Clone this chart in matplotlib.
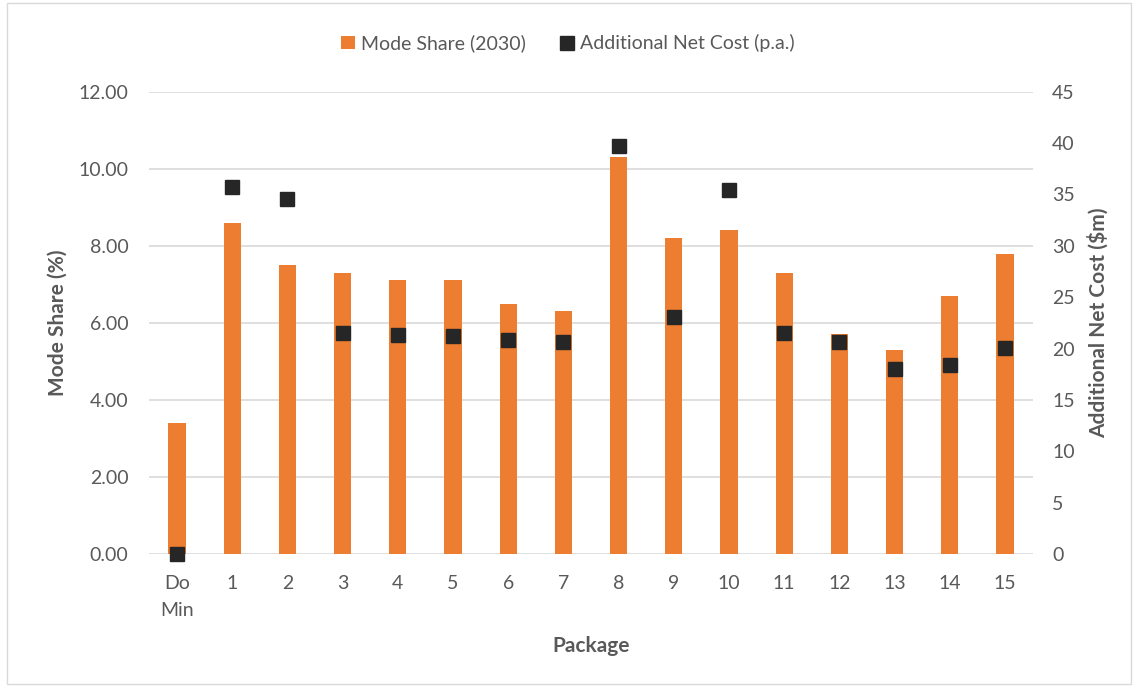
import matplotlib.pyplot as plt
from matplotlib.patches import Rectangle
from matplotlib.ticker import FormatStrFormatter

# data
packages = ['Do\nMin', '1', '2', '3', '4', '5', '6', '7', '8', '9', '10',
            '11', '12', '13', '14', '15']
mode_share = [3.4, 8.6, 7.5, 7.3, 7.1, 7.1, 6.5, 6.3, 10.3, 8.2, 8.4,
              7.3, 5.7, 5.3, 6.7, 7.8]
net_cost = [0.0, 35.7, 34.6, 21.5, 21.3, 21.2, 20.8, 20.65, 39.7, 23.1, 35.4,
            21.5, 20.65, 18.0, 18.4, 20.1]

text_col = '#595959'
plt.rcParams['font.family'] = ['Lato', 'DejaVu Sans']


def main():
    fig = plt.figure(figsize=(11.36, 6.87), dpi=100)
    ax = fig.add_axes([0.1315, 0.1936, 0.7775, 0.6729])
    ax2 = ax.twinx()

    x = list(range(len(packages)))
    ax.bar(x, mode_share, width=0.31, color='#ED7D31', zorder=2,
           label='Mode Share (2030)')
    ax2.plot(x, net_cost, linestyle='none', marker='s', markersize=9.5,
             color='#262626', clip_on=False, zorder=3,
             label='Additional Net Cost (p.a.)')

    ax.set_xlim(-0.5, len(packages) - 0.5)
    ax.set_ylim(0, 12)
    ax.set_yticks([0, 2, 4, 6, 8, 10, 12])
    ax.yaxis.set_major_formatter(FormatStrFormatter('%.2f'))
    ax2.set_ylim(0, 45)
    ax2.set_yticks(range(0, 46, 5))

    ax.set_xticks(x)
    ax.set_xticklabels(packages, linespacing=1.75)
    ax.grid(axis='y', color='#D9D9D9', linewidth=1.2, zorder=0)
    ax.set_axisbelow(True)

    for a in (ax, ax2):
        for s in a.spines.values():
            s.set_visible(False)
        a.tick_params(length=0, labelsize=14, labelcolor=text_col)
    ax.tick_params(axis='y', pad=15)
    ax.tick_params(axis='x', pad=15)
    ax2.tick_params(axis='y', pad=14)

    ax.set_xlabel('Package', fontsize=15, fontweight='bold', color=text_col,
                  labelpad=12)
    ax.set_ylabel('Mode Share (%)', fontsize=15, fontweight='bold',
                  color=text_col, labelpad=8)
    ax2.set_ylabel('Additional Net Cost ($m)', fontsize=15, fontweight='bold',
                   color=text_col, labelpad=9)

    h1, l1 = ax.get_legend_handles_labels()
    h2, l2 = ax2.get_legend_handles_labels()
    fig.legend(h1 + h2, l1 + l2, loc='center', bbox_to_anchor=(0.5, 0.937),
               ncol=2, frameon=False, fontsize=14, labelcolor=text_col,
               handlelength=0.7, handleheight=0.7, handletextpad=0.3,
               columnspacing=1.8, markerscale=1.0)

    # light border around the chart area
    fig.patches.append(Rectangle((0.006, 0.004), 0.99, 0.992,
                                 transform=fig.transFigure, fill=False,
                                 edgecolor='#D9D9D9', linewidth=1))

    fig.savefig('out.png', dpi=100)


if __name__ == "__main__":
    main()
